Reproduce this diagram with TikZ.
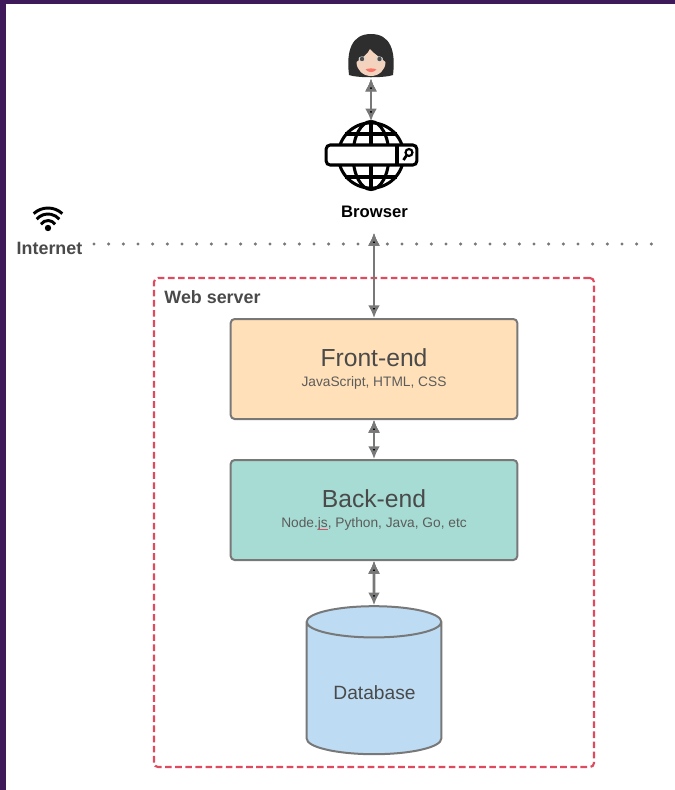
\documentclass[tikz,border=0pt]{standalone}
\usepackage{fontspec}
\setmainfont{Liberation Sans}
\usetikzlibrary{arrows.meta, shapes.geometric}

\definecolor{framepurple}{HTML}{3F1A5B}
\definecolor{linegray}{HTML}{787878}
\definecolor{textgray}{HTML}{4A4A4A}
\definecolor{subgray}{HTML}{5C5C5C}
\definecolor{boxred}{HTML}{DF4A5E}
\definecolor{frontfill}{HTML}{FFE0B8}
\definecolor{backfill}{HTML}{A6DCD3}
\definecolor{dbfill}{HTML}{BDDCF3}
\definecolor{skin}{HTML}{F3D2BE}
\definecolor{hair}{HTML}{2E2E2E}

\tikzset{
    tier/.style={draw=linegray, line width=1.5pt, rounded corners=3pt, minimum width=215pt,
        minimum height=75pt, align=center, text=textgray, inner sep=0pt},
    biarrow/.style={draw=linegray, line width=1.9pt, {Latex[length=9.5pt,width=9pt]}-{Latex[length=9.5pt,width=9pt]}},
    heading/.style={font=\bfseries\fontsize{13.4pt}{16pt}\selectfont, text=textgray, inner sep=0pt},
    icon/.style={black, line width=2.3pt}
}

\newcommand{\tiertext}[2]{{\fontsize{18.5pt}{22pt}\selectfont #1}\\[3pt]{\fontsize{10.3pt}{13pt}\selectfont\color{subgray} #2}}

\begin{document}
\begin{tikzpicture}[x=0.75pt, y=-0.75pt]
    \useasboundingbox (0,0) rectangle (675,790);
    \fill[framepurple] (0,0) rectangle (675,4);
    \fill[framepurple] (0,0) rectangle (6,790);

    % woman
    \node[minimum width=33pt, minimum height=33pt, inner sep=0pt] (user) at (371,56.5) {};
    \fill[hair] (349,75) .. controls (346,50) and (352,34) .. (371,34)
        .. controls (390,34) and (396,50) .. (393,75)
        .. controls (385,78) and (357,78) .. (349,75) -- cycle;
    \fill[skin] (356.5,62) .. controls (362,58) and (368,54) .. (370,49)
        .. controls (374,54) and (381,58) .. (385.5,62)
        .. controls (385.5,70) and (379,76) .. (371,76)
        .. controls (363,76) and (356.5,70) .. (356.5,62) -- cycle;
    \fill[white!85!black] (362,59) ellipse[x radius=3.5, y radius=2.6];
    \fill[white!85!black] (379.5,59) ellipse[x radius=3.5, y radius=2.6];
    \fill[black!70] (362,59) circle[radius=2.2];
    \fill[black!70] (379.5,59) circle[radius=2.2];
    \fill[red!45!skin] (365.5,69.5) .. controls (369,68) and (373,68) .. (376.5,69.5)
        .. controls (373,73) and (369,73) .. (365.5,69.5) -- cycle;

    % browser
    \node[circle, draw=black, line width=2.3pt, fill=white, minimum size=49pt, inner sep=0pt] (browser) at (371,155.5) {};
    \begin{scope}[icon]
        \draw (browser.north) -- (browser.south);
        \draw (371,155.5) ellipse[x radius=18, y radius=34];
        \draw (345,134) -- (397,134);
        \draw (345,177) -- (397,177);
    \end{scope}
    \node[draw=black, line width=2.3pt, fill=white, rounded corners=3pt, minimum width=68pt, minimum height=15pt, inner sep=0pt] (bar) at (371.5,155) {};
    \draw[icon] (397,145) -- (397,165);
    \draw[icon, line width=1.6pt] (409,152.5) circle[radius=3.5];
    \draw[icon, line width=2pt] (406.5,155.5) -- (403.5,160);
    \node[font=\bfseries\fontsize{12.5pt}{15pt}\selectfont, text=black, inner sep=0pt] (browserlabel) at (374.5,212) {Browser};

    % internet
    \fill[black] (48,228) circle[radius=3.2];
    \draw[black, line width=2.2pt] ([shift={(-146:8.5)}]48,229) arc[start angle=-146, end angle=-34, radius=8.5];
    \draw[black, line width=2.2pt] ([shift={(-139:15)}]48,229) arc[start angle=-139, end angle=-41, radius=15];
    \draw[black, line width=2.2pt] ([shift={(-133:21)}]48,229) arc[start angle=-133, end angle=-47, radius=21];
    \node[heading] (internet) at (49.5,248) {Internet};
    \coordinate (netleft) at (94,244);
    \coordinate (netright) at (653,244);
    \coordinate (netcross) at (374,233);
    \draw[linegray, line width=2.6pt, line cap=round, dash pattern=on 0pt off 11pt] (netleft) -- (netright);

    % server box
    \node[draw=boxred, line width=1.6pt, dash pattern=on 5pt off 2.6pt, rounded corners=3pt, minimum width=330pt, minimum height=366.75pt, inner sep=0pt] (server) at (374,522.5) {};
    \node[heading] (serverlabel) at (212.5,297) {Web server};

    \node[tier, fill=frontfill] (front) at (374,369) {\tiertext{Front-end}{JavaScript, HTML, CSS}};
    \node[tier, fill=backfill] (back) at (374,510) {\tiertext{Back-end}{Node.js, Python, Java, Go, etc}};
    \draw[boxred, line width=0.8pt] (318,529.5) -- (328,529.5);

    \node[cylinder, shape border rotate=90, draw=linegray, line width=1.5pt, fill=dbfill, aspect=0.38,
        minimum width=101pt, minimum height=111pt, inner sep=0pt,
        font=\fontsize{14.4pt}{17pt}\selectfont] (db) at (374,688.5) {\phantom{Database}};
    \node[text=textgray, inner sep=0pt, font=\fontsize{14.4pt}{17pt}\selectfont] (dblabel) at (374.5,693) {Database};

    \draw[biarrow] (user.south) edge (browser.north);
    \draw[biarrow] (netcross) edge (front.north);
    \draw[biarrow] (front.south) edge (back.north);
    \draw[biarrow] (back.south) edge (db.north);
\end{tikzpicture}
\end{document}
